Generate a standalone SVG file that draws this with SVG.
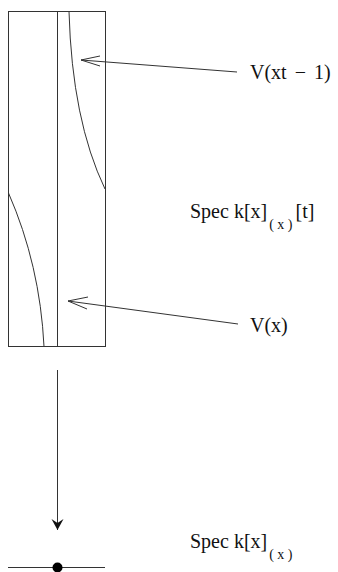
<svg xmlns="http://www.w3.org/2000/svg" width="338" height="572" viewBox="0 0 338 572">
<style>
.l{fill:none;stroke:#333;stroke-width:1}
.t{font-family:"Liberation Serif","DejaVu Serif",serif;font-size:20px;fill:#111}
.s{font-size:14px}
</style>
<defs>
<marker id="barb" markerWidth="12" markerHeight="16" refX="11" refY="6" orient="auto" markerUnits="userSpaceOnUse">
<path d="M0,0 L11,6 L0,12 L4,6 Z" fill="#111"/>
</marker>
</defs>
<g id="strip">
<rect x="8.5" y="11.5" width="97" height="335" class="l"/>
<line x1="57.5" y1="11.5" x2="57.5" y2="346.5" class="l"/>
<path d="M69,11.5 Q72,120 105,189" class="l"/>
<path d="M8.5,193 Q40,265 44,346.5" class="l"/>
</g>
<g id="base">
<line x1="8" y1="567.5" x2="105" y2="567.5" class="l"/>
<circle cx="57.5" cy="567.5" r="5" fill="#000"/>
</g>
<g id="connectors">
<path d="M237,72 L81,60" class="l"/>
<path d="M100,56 L81,60 L100,66" class="l"/>
<path d="M238,324 L68,301" class="l"/>
<path d="M88,297 L68,301 L87,309" class="l"/>
<line x1="57.5" y1="370" x2="57.5" y2="530" class="l" marker-end="url(#barb)"/>
</g>
<g id="labels">
<text class="t" x="250" y="79">V(xt<tspan dx="8">−</tspan><tspan dx="8">1)</tspan></text>
<text class="t" x="190" y="218">Spec k[x]<tspan class="s" dx="2" dy="11">( x )</tspan><tspan dx="3" dy="-11">[t]</tspan></text>
<text class="t" x="250" y="332">V(x)</text>
<text class="t" x="190" y="548">Spec k[x]<tspan class="s" dx="2" dy="11">( x )</tspan></text>
</g>
</svg>
